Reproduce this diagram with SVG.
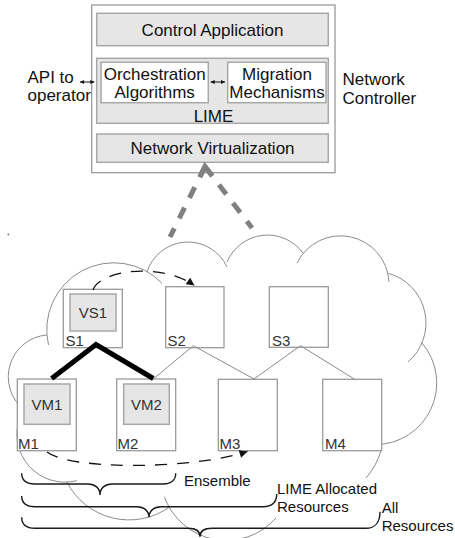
<svg xmlns="http://www.w3.org/2000/svg" width="455" height="538" viewBox="0 0 455 538">
<defs>
<style>
.box{fill:#fff;stroke:#9a9a9a;stroke-width:1.3}
.gbox{fill:#e6e6e6;stroke:#a8a8a8;stroke-width:1.5}
.wbox{fill:#fff;stroke:#a8a8a8;stroke-width:1.5}
.cloud{fill:none;stroke:#8c8c8c;stroke-width:1}
.t17{font-family:"Liberation Sans",Arial,sans-serif;font-size:17px;fill:#111}
.t15{font-family:"Liberation Sans",Arial,sans-serif;font-size:15px;fill:#111}
.lbl{font-family:"Liberation Sans",Arial,sans-serif;font-size:15px;fill:#333}
.mid{text-anchor:middle}
.brace{fill:none;stroke:#1a1a1a;stroke-width:1.4}
.thin{stroke:#8a8a8a;stroke-width:1;fill:none}
.dash{fill:none;stroke:#111;stroke-width:1.3;stroke-dasharray:12 10}
.gdash{stroke:#808080;stroke-width:5;stroke-dasharray:12 11;fill:none}
</style>
<marker id="ah" viewBox="0 0 10 10" refX="10" refY="5" markerWidth="9" markerHeight="8" markerUnits="userSpaceOnUse" orient="auto">
<path d="M0,0 L10,5 L0,10 z" fill="#111"/>
</marker>
<marker id="sa" viewBox="0 0 10 10" refX="10" refY="5" markerWidth="4" markerHeight="4" markerUnits="userSpaceOnUse" orient="auto-start-reverse">
<path d="M0,0 L10,5 L0,10 z" fill="#111"/>
</marker>
</defs>
<rect width="455" height="538" fill="#fff"/>

<g id="cloud">
<path class="cloud" d="M48.5,345 A67,67 0 0 1 162,283.3"/>
<path class="cloud" d="M147,272 A43,43 0 0 1 227,267"/>
<path class="cloud" d="M227,262 A44,44 0 0 1 303,253"/>
<path class="cloud" d="M297,263 A48.5,48.5 0 0 1 389,282"/>
<path class="cloud" d="M388.3,273.3 A51.5,51.5 0 0 1 408,362"/>
<path class="cloud" d="M421.7,342.7 A61.6,61.6 0 0 1 375,444.6"/>
<path class="cloud" d="M381.1,450.4 A74,74 0 0 1 366,478"/>
<path class="cloud" d="M164.3,496.7 A66,66 0 0 0 276,518"/>
<path class="cloud" d="M66.7,481.7 A70,70 0 0 0 170,506.7"/>
<path class="cloud" d="M19.9,417.6 A48,48 0 0 0 76.7,480.7"/>
<path class="cloud" d="M46.7,335 A42,42 0 0 0 23.5,409.2"/>
<circle cx="8.3" cy="234.5" r="0.9" fill="#777"/>
</g>

<g id="controller">
<rect class="box" x="91.7" y="5" width="243.3" height="167.7"/>
<text class="t17" x="342.5" y="85">Network</text>
<text class="t17" x="342.5" y="104">Controller</text>
<text class="t17" x="27.5" y="82.5">API to</text>
<text class="t17" x="27.5" y="101">operator</text>
</g>
<g id="control-application">
<rect class="gbox" x="96.7" y="13.3" width="231.6" height="32.4"/>
<text class="t17 mid" x="212.5" y="36">Control Application</text>
</g>
<g id="lime">
<rect class="gbox" x="96.7" y="58.3" width="231.6" height="65"/>
<text class="t17 mid" x="213.5" y="121.5">LIME</text>
</g>
<g id="orchestration">
<rect class="wbox" x="101" y="62.3" width="107.3" height="40.4"/>
<text class="t17 mid" x="154.7" y="80">Orchestration</text>
<text class="t17 mid" x="154.7" y="98">Algorithms</text>
</g>
<g id="migration">
<rect class="wbox" x="227.7" y="62.3" width="98.3" height="40.4"/>
<text class="t17 mid" x="277" y="80">Migration</text>
<text class="t17 mid" x="277" y="98">Mechanisms</text>
</g>
<g id="network-virtualization">
<rect class="gbox" x="96.7" y="134" width="231.6" height="28.3"/>
<text class="t17 mid" x="212.5" y="154">Network Virtualization</text>
</g>

<g id="S1">
<rect class="box" x="63.3" y="289.3" width="59" height="58.4"/>
<rect class="gbox" x="70" y="294" width="46" height="37"/>
<text class="lbl mid" x="93" y="318">VS1</text>
<text class="lbl" x="65.5" y="346">S1</text>
</g>
<g id="S2">
<rect class="box" x="165.7" y="286.7" width="58.3" height="61"/>
<text class="lbl" x="167.5" y="346">S2</text>
</g>
<g id="S3">
<rect class="box" x="269.3" y="286.7" width="59" height="60.6"/>
<text class="lbl" x="272" y="346">S3</text>
</g>
<g id="M1">
<rect class="box" x="17.3" y="379" width="59" height="71.7"/>
<rect class="gbox" x="24" y="384" width="46" height="40.3"/>
<text class="lbl mid" x="47" y="410">VM1</text>
<text class="lbl" x="18" y="449">M1</text>
</g>
<g id="M2">
<rect class="box" x="116.7" y="379" width="59" height="71.7"/>
<rect class="gbox" x="123.7" y="384" width="45.6" height="40.3"/>
<text class="lbl mid" x="146.5" y="410">VM2</text>
<text class="lbl" x="117.5" y="449">M2</text>
</g>
<g id="M3">
<rect class="box" x="218.3" y="379.3" width="59" height="71.4"/>
<text class="lbl" x="219.5" y="449">M3</text>
</g>
<g id="M4">
<rect class="box" x="322.7" y="379.3" width="59" height="71.4"/>
<text class="lbl" x="325" y="449">M4</text>
</g>

<g id="connectors">
<line x1="80" y1="82" x2="94.3" y2="82" stroke="#111" stroke-width="1" marker-start="url(#sa)" marker-end="url(#sa)"/>
<line x1="210.7" y1="82" x2="225" y2="82" stroke="#111" stroke-width="1" marker-start="url(#sa)" marker-end="url(#sa)"/>
<line class="gdash" x1="205" y1="166.5" x2="170" y2="237"/>
<line class="gdash" x1="205" y1="166.5" x2="252" y2="228"/>
<polyline points="200,176.7 205,166.5 212.2,176" fill="none" stroke="#808080" stroke-width="5" stroke-linejoin="miter"/>
<polyline points="51.7,378.5 96,344.5 153.3,378.5" fill="none" stroke="#000" stroke-width="5" stroke-linejoin="miter"/>
<polyline class="thin" points="153.3,379 193.3,345.7 254,379"/>
<polyline class="thin" points="254,379 300.5,345.7 355,379.5"/>
<path class="dash" d="M93,290 C100,270 160,262 194.5,285.5" marker-end="url(#ah)"/>
<path class="dash" d="M47,452 C70,470 190,470 247.5,451.5" marker-end="url(#ah)"/>
</g>

<g id="ensemble">
<path class="brace" d="M21.7,473.3 C21.7,481 26,484 35,484 L88,484 C95,484 100,488 100,495 C100,488 105,484 112,484 L163,484 C171,484 175.7,480 175.7,473.3"/>
<text class="t15" x="184" y="486">Ensemble</text>
</g>
<g id="lime-allocated">
<path class="brace" d="M21.7,496 C21.7,503 26,506.7 35,506.7 L137,506.7 C144,506.7 149,511 149,517.3 C149,511 154,506.7 161,506.7 L263,506.7 C272,506.7 276.7,502 276.7,494"/>
<text class="t15" x="277" y="494">LIME Allocated</text>
<text class="t15" x="277" y="511.5">Resources</text>
</g>
<g id="all-resources">
<path class="brace" d="M21.7,517.3 C21.7,524 26,528.3 35,528.3 L188,528.3 C195,528.3 200,531 200,536.7 C200,531 205,528.3 212,528.3 L366,528.3 C375,528.3 380,522 380,511.7"/>
<text class="t15" x="381.7" y="512.5">All</text>
<text class="t15" x="381.7" y="531">Resources</text>
</g>
</svg>
